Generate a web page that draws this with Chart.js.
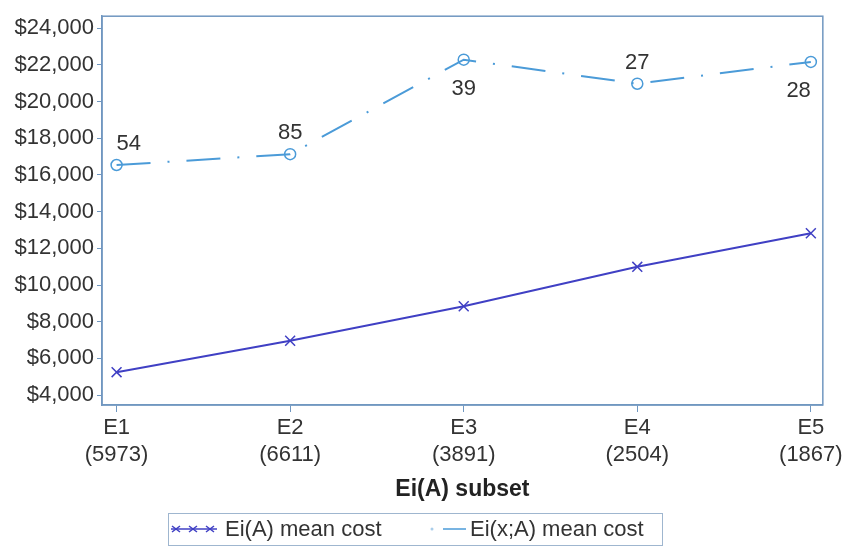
<!DOCTYPE html>
<html>
<head>
<meta charset="utf-8">
<script src="https://cdn.jsdelivr.net/npm/chart.js@4"></script>
<style>
  html, body { margin: 0; padding: 0; background: #fff; }
  #wrap { width: 846px; height: 549px; }
</style>
</head>
<body>
<div id="wrap"><canvas id="costChart"></canvas></div>
<script>
// chart data
var subsets = ['E1', 'E2', 'E3', 'E4', 'E5'];
var subsetSizes = [5973, 6611, 3891, 2504, 1867];
var meanCostA = [5250, 6960, 8840, 10990, 12820];
var meanCostXA = [16540, 17130, 22280, 20970, 22160];
var countsXA = [54, 85, 39, 27, 28];
var countSide = ['above', 'above', 'below', 'above', 'below'];
var yTicks = [4000, 6000, 8000, 10000, 12000, 14000, 16000, 18000, 20000, 22000, 24000];

var frameColor = '#7097c0';
var colorA = '#4040c4';
var colorXA = '#4b9bd8';
var fontFamily = "'Liberation Sans', Arial, sans-serif";

Chart.defaults.font.family = fontFamily;
Chart.defaults.color = '#333';

function toPoints(values) {
    return values.map(function (v, i) { return { x: i, y: v }; });
}

// frame round the plot area
var framePlugin = {
    id: 'frame',
    afterDatasetsDraw: function (chart) {
        var a = chart.chartArea, ctx = chart.ctx;
        ctx.save();
        ctx.strokeStyle = frameColor;
        ctx.lineWidth = 1.5;
        ctx.strokeRect(a.left, a.top, a.right - a.left, a.bottom - a.top);
        ctx.restore();
    }
};

// count labels next to the Ei(x;A) points
var countPlugin = {
    id: 'counts',
    afterDatasetsDraw: function (chart) {
        var ctx = chart.ctx;
        var pts = chart.getDatasetMeta(1).data;
        ctx.save();
        ctx.font = '22px ' + fontFamily;
        ctx.fillStyle = '#333';
        ctx.textBaseline = 'middle';
        pts.forEach(function (p, i) {
            ctx.textAlign = i === 0 ? 'left' : (i === pts.length - 1 ? 'right' : 'center');
            var y = countSide[i] === 'above' ? p.y - 21 : p.y + 29;
            ctx.fillText(String(countsXA[i]), p.x, y);
        });
        ctx.restore();
    }
};

// boxed legend below the axis title
var legendPlugin = {
    id: 'boxLegend',
    afterDraw: function (chart) {
        var ctx = chart.ctx;
        var y = 529;
        ctx.save();
        ctx.strokeStyle = '#9fb6cf';
        ctx.lineWidth = 1;
        ctx.strokeRect(168.5, 513.5, 494, 32);

        // Ei(A) symbol: line with crosses
        ctx.strokeStyle = colorA;
        ctx.lineWidth = 1.5;
        ctx.beginPath();
        ctx.moveTo(171, y); ctx.lineTo(217, y);
        ctx.stroke();
        [176, 193, 210].forEach(function (cx) {
            ctx.beginPath();
            ctx.moveTo(cx - 4, y - 3); ctx.lineTo(cx + 4, y + 3);
            ctx.moveTo(cx - 4, y + 3); ctx.lineTo(cx + 4, y - 3);
            ctx.stroke();
        });

        // Ei(x;A) symbol: dot then short line
        ctx.strokeStyle = colorXA;
        ctx.fillStyle = '#a9cdea';
        ctx.beginPath();
        ctx.arc(432, y, 1.5, 0, Math.PI * 2);
        ctx.fill();
        ctx.beginPath();
        ctx.moveTo(443, y); ctx.lineTo(466, y);
        ctx.stroke();

        ctx.font = '22px ' + fontFamily;
        ctx.fillStyle = '#333';
        ctx.textAlign = 'left';
        ctx.textBaseline = 'middle';
        ctx.fillText(chart.data.datasets[0].label, 225, y + 1);
        ctx.fillText(chart.data.datasets[1].label, 470, y + 1);
        ctx.restore();
    }
};

var ctx = document.getElementById('costChart').getContext('2d');
var costChart = new Chart(ctx, {
    type: 'line',
    data: {
        datasets: [{
            label: 'Ei(A) mean cost',
            data: toPoints(meanCostA),
            borderColor: colorA,
            backgroundColor: colorA,
            borderWidth: 2,
            pointStyle: 'crossRot',
            pointRadius: 7,
            pointBorderWidth: 1.5,
            fill: false,
            tension: 0
        }, {
            label: 'Ei(x;A) mean cost',
            data: toPoints(meanCostXA),
            borderColor: colorXA,
            backgroundColor: 'transparent',
            borderWidth: 2,
            borderDash: [34, 17, 2, 17],
            pointStyle: 'circle',
            pointRadius: 5.5,
            pointBorderWidth: 1.5,
            fill: false,
            tension: 0
        }]
    },
    options: {
        responsive: true,
        maintainAspectRatio: false,
        animation: false,
        layout: { padding: { top: 11, right: 21, bottom: 44, left: 0 } },
        plugins: {
            legend: { display: false },
            tooltip: { enabled: false }
        },
        scales: {
            x: {
                type: 'linear',
                min: -0.084,
                max: 4.069,
                afterBuildTicks: function (scale) {
                    scale.ticks = subsets.map(function (s, i) { return { value: i }; });
                },
                afterFit: function (scale) { scale.height = 100; },
                ticks: {
                    autoSkip: false,
                    maxRotation: 0,
                    padding: 3,
                    font: { size: 22 },
                    color: '#333',
                    callback: function (v) {
                        return [subsets[v], '(' + subsetSizes[v] + ')'];
                    }
                },
                grid: {
                    display: true,
                    drawOnChartArea: false,
                    drawTicks: true,
                    tickLength: 7,
                    color: frameColor
                },
                border: { display: true, color: frameColor, width: 1.5 },
                title: {
                    display: true,
                    text: 'Ei(A) subset',
                    font: { size: 23, weight: 'bold' },
                    color: '#222',
                    padding: { top: 10, bottom: 2 }
                }
            },
            y: {
                min: 3460,
                max: 24650,
                afterBuildTicks: function (scale) {
                    scale.ticks = yTicks.map(function (v) { return { value: v }; });
                },
                afterFit: function (scale) { scale.width = 102; },
                ticks: {
                    padding: 3,
                    font: { size: 22 },
                    color: '#333',
                    callback: function (v) {
                        return '$' + Number(v).toLocaleString('en-US');
                    }
                },
                grid: {
                    display: true,
                    drawOnChartArea: false,
                    drawTicks: true,
                    tickLength: 5,
                    color: frameColor
                },
                border: { display: true, color: frameColor, width: 1.5 }
            }
        }
    },
    plugins: [framePlugin, countPlugin, legendPlugin]
});
</script>
</body>
</html>
